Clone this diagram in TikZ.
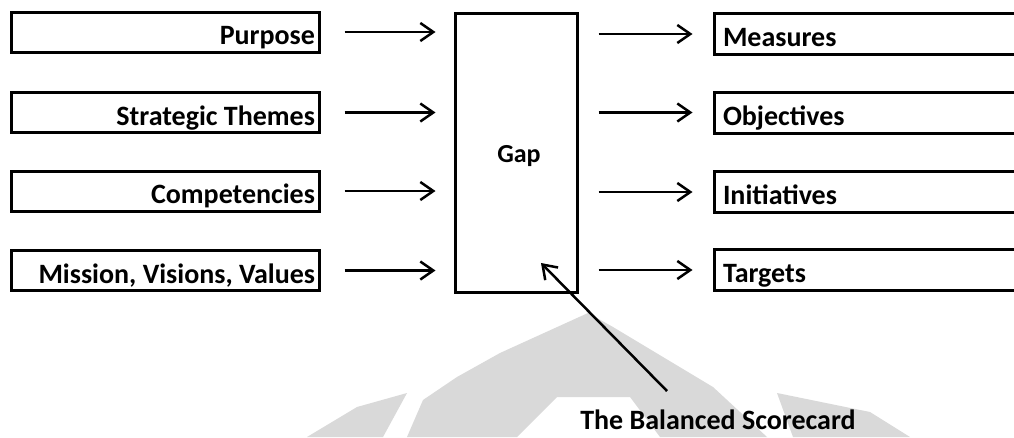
\documentclass[tikz,border=0pt]{standalone}
\usepackage{fontspec}
\setmainfont{Carlito}
\usetikzlibrary{arrows.meta}
\tikzset{
  txt/.style={font=\bfseries\fontsize{28}{30}\selectfont},
  lbox/.style={txt, draw=black, line width=3pt, rectangle, minimum height=40pt, text width=300pt, inner xsep=4pt, inner ysep=0pt, align=flush right, text height=25pt, text depth=0pt},
  rbox/.style={txt, draw=black, line width=3pt, rectangle, minimum height=41pt, text width=330pt, inner xsep=9pt, inner ysep=0pt, align=flush left, text height=25pt, text depth=0pt},
  gapbox/.style={draw=black, line width=3pt, rectangle, minimum width=122pt, minimum height=279pt},
  lbl/.style={txt, inner sep=0pt},
  arr/.style={line width=2.5pt, -{Straight Barb[length=13pt,width=18pt,line width=2.5pt]}},
  wm/.style={fill=black!15, draw=none}
}
\begin{document}
\begin{tikzpicture}[x=1pt,y=-1pt]
\clip (0,0) rectangle (1014,437);
\fill[white] (0,0) rectangle (1014,437);
% watermark
\fill[wm] (588,313) -- (613,327) -- (663,357) -- (713,387) -- (767,437) -- (660,437) -- (630,397) -- (557,397) -- (517,437) -- (407,437) -- (423,400) -- (457,377) -- (500,353) -- cycle;
\fill[wm] (407,393) -- (383,437) -- (307,437) -- (357,407) -- cycle;
\fill[wm] (777,393) -- (870,412) -- (910,437) -- (793,437) -- cycle;
% left boxes
\node[lbox] (p) at (165,32) {Purpose};
\node[lbox] (s) at (165,112.5) {Strategic Themes};
\node[lbox] (c) at (165,191) {Competencies};
\node[lbox] (m) at (165,270.5) {Mission, Visions, Values};
% gap
\node[gapbox] (gap) at (516,152.5) {};
\node[lbl, font=\bfseries\fontsize{26}{28}\selectfont, anchor=base] (gaptext) at (519,162) {Gap};
% right boxes
\node[rbox] (me) at (888,34) {Measures};
\node[rbox] (ob) at (888,112.5) {Objectives};
\node[rbox] (in) at (888,192) {Initiatives};
\node[rbox] (ta) at (888,270) {Targets};
% arrows in
\foreach \n in {p,s,c,m}
  \draw[arr, shorten <=24pt, shorten >=18pt] (\n.east) -- (\n.east -| gap.west);
% arrows out
\foreach \n in {me,ob,in,ta}
  \draw[arr, shorten <=20pt, shorten >=20pt] (\n.west -| gap.east) -- (\n.west);
% balanced scorecard
\node[lbl, anchor=base] (bsc) at (718,429) {The Balanced Scorecard};
\coordinate (tail) at (667,391);
\coordinate (head) at (541,263);
\draw[arr] (tail) -- (head);
\end{tikzpicture}
\end{document}
